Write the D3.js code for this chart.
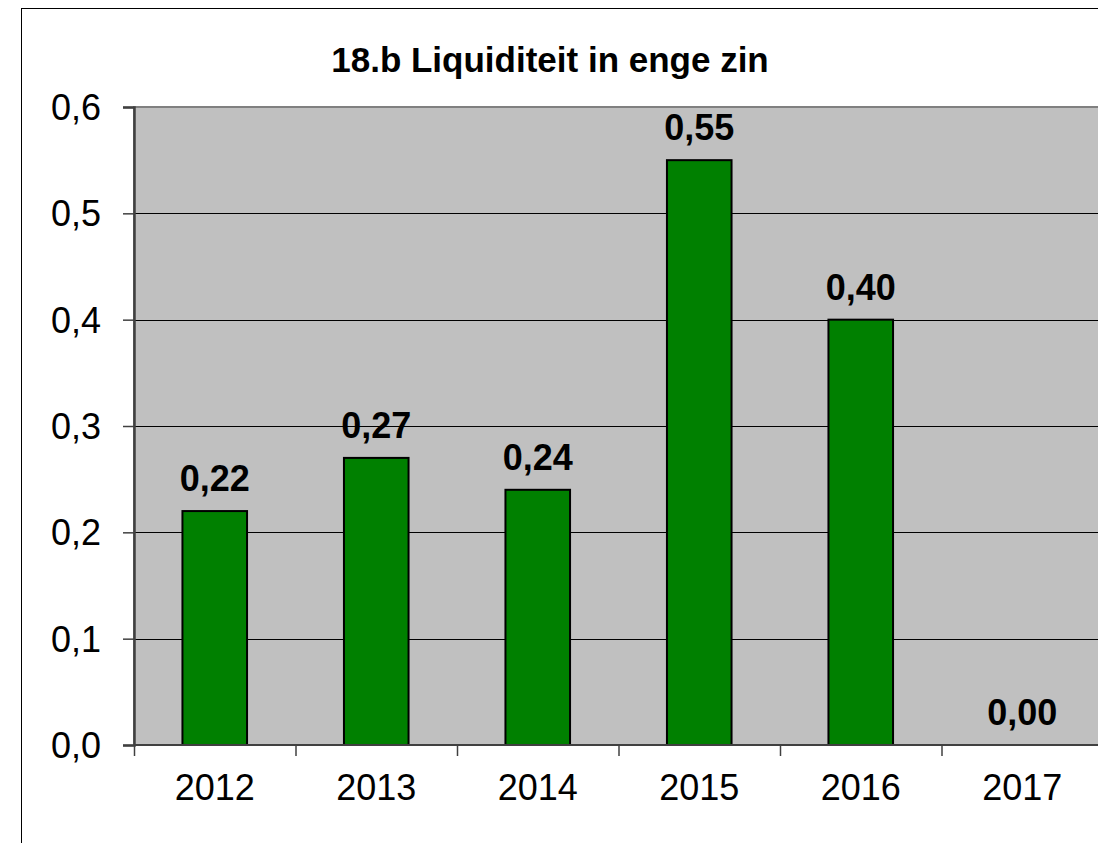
<!DOCTYPE html>
<html>
<head>
<meta charset="utf-8">
<script src="https://cdn.jsdelivr.net/npm/d3@7/dist/d3.min.js"></script>
<style>
  html, body { margin: 0; padding: 0; background: #fff; }
  svg { display: block; font-family: "Liberation Sans", Arial, sans-serif; }
</style>
</head>
<body>
<svg id="chart" width="1098" height="843"></svg>
<script>
const title = "18.b Liquiditeit in enge zin";
const years = ["2012", "2013", "2014", "2015", "2016", "2017"];
const values = [0.22, 0.27, 0.24, 0.55, 0.40, 0.00];
const yTicks = [0, 0.1, 0.2, 0.3, 0.4, 0.5, 0.6];

const svg = d3.select("#chart");
const plot = { left: 134, top: 107, right: 1103, bottom: 745 };

// outer chart border (extends past the window on right and bottom)
svg.append("rect")
  .attr("x", 21.5).attr("y", 8.5)
  .attr("width", 1200).attr("height", 1000)
  .attr("fill", "#fff").attr("stroke", "#000").attr("stroke-width", 1);

const x = d3.scaleBand().domain(years).range([plot.left, plot.right])
  .paddingInner(0.6).paddingOuter(0.3);
const xCat = d3.scaleBand().domain(years).range([plot.left, plot.right]).padding(0);
const y = d3.scaleLinear().domain([0, 0.6]).range([plot.bottom, plot.top]);

// plot area background
svg.append("rect")
  .attr("x", plot.left).attr("y", plot.top)
  .attr("width", plot.right - plot.left).attr("height", plot.bottom - plot.top)
  .attr("fill", "#c0c0c0").attr("stroke", "#808080").attr("stroke-width", 2);

// gridlines
svg.append("g").selectAll("line")
  .data(yTicks.filter(d => d > 0 && d < 0.6))
  .join("line")
  .attr("x1", plot.left).attr("x2", plot.right)
  .attr("y1", d => Math.round(y(d)) + 0.5).attr("y2", d => Math.round(y(d)) + 0.5)
  .attr("stroke", "#000").attr("stroke-width", 1.2);

// bars
svg.append("g").selectAll("rect")
  .data(values.map((v, i) => ({ year: years[i], v })))
  .join("rect")
  .attr("x", d => x(d.year))
  .attr("y", d => y(d.v))
  .attr("width", x.bandwidth())
  .attr("height", d => y(0) - y(d.v))
  .attr("fill", "#008000")
  .attr("stroke", "#000")
  .attr("stroke-width", d => d.v > 0 ? 2 : 0);

// y axis
const yAxis = d3.axisLeft(y).tickValues(yTicks).tickSize(11).tickPadding(22)
  .tickFormat(d => d3.format(".1f")(d).replace(".", ","));
const gy = svg.append("g").attr("transform", `translate(${plot.left},0)`).call(yAxis);
gy.select(".domain").attr("stroke", "#404040").attr("stroke-width", 2.5);
gy.selectAll(".tick line").attr("stroke", "#404040").attr("stroke-width", 1.5);
gy.selectAll(".tick text").attr("font-size", 36).attr("fill", "#000")
  .attr("font-family", '"Liberation Sans", Arial, sans-serif')
  .attr("dy", "0.35em");

// x axis with ticks at category boundaries
svg.append("line")
  .attr("x1", plot.left).attr("x2", plot.right)
  .attr("y1", plot.bottom).attr("y2", plot.bottom)
  .attr("stroke", "#404040").attr("stroke-width", 2);
svg.append("g").selectAll("line")
  .data(years)
  .join("line")
  .attr("x1", d => xCat(d) + 0.5).attr("x2", d => xCat(d) + 0.5)
  .attr("y1", plot.bottom).attr("y2", plot.bottom + 11)
  .attr("stroke", "#404040").attr("stroke-width", 1.5);
svg.append("g").selectAll("text")
  .data(years)
  .join("text")
  .attr("x", d => xCat(d) + xCat.bandwidth() / 2)
  .attr("y", plot.bottom + 55)
  .attr("text-anchor", "middle")
  .attr("font-size", 36)
  .attr("fill", "#000")
  .text(d => d);

// value labels
svg.append("g").selectAll("text")
  .data(values.map((v, i) => ({ year: years[i], v })))
  .join("text")
  .attr("x", d => x(d.year) + x.bandwidth() / 2)
  .attr("y", d => y(d.v) - 20)
  .attr("text-anchor", "middle")
  .attr("font-size", 36)
  .attr("font-weight", "bold")
  .attr("fill", "#000")
  .text(d => d3.format(".2f")(d.v).replace(".", ","));

// title
svg.append("text")
  .attr("x", 550).attr("y", 72)
  .attr("text-anchor", "middle")
  .attr("font-size", 35)
  .attr("font-weight", "bold")
  .attr("fill", "#000")
  .text(title);
</script>
</body>
</html>
